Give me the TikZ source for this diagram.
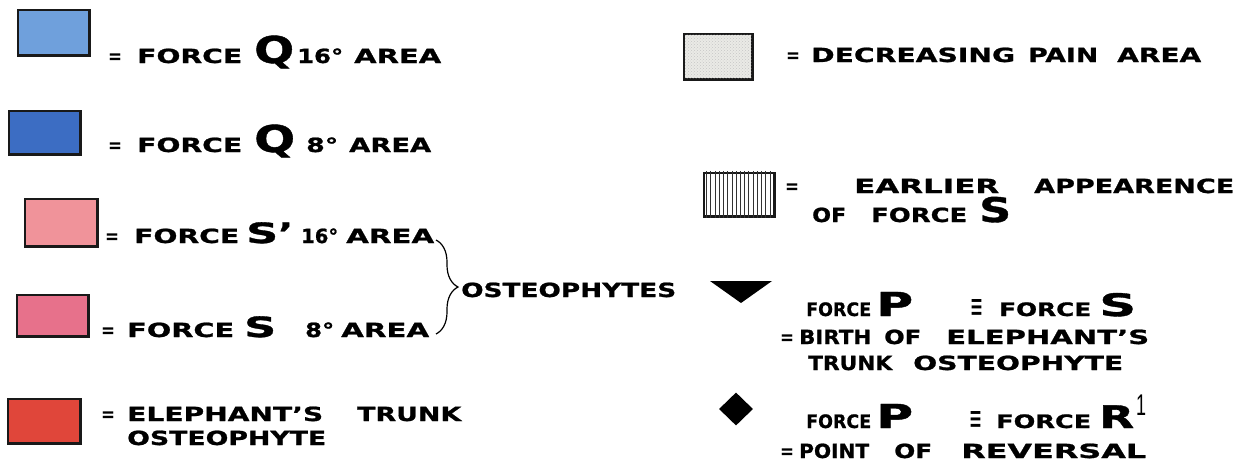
\documentclass[tikz,border=0pt]{standalone}
\usepackage{fontspec}
\usetikzlibrary{decorations.pathreplacing,shapes.geometric,patterns}
\newfontfamily\mainf[FakeStretch=1.4,FakeBold=1.1]{DejaVu Sans}
\newfontfamily\plainf{DejaVu Sans}
\newfontfamily\lsans{Liberation Sans}
\newcommand\fsz[1]{\fontsize{#1}{#1}\selectfont}
\newcommand\fitw[2]{\resizebox{#1pt}{\height}{#2}}
\newcommand\lbl[5][]{\node[txt,#1] (#2) at (#3,#4) {#5};}
\newcommand\lbw[6][]{\node[txt,#1] (#2) at (#3,#4) {\fitw{#5}{#6}};}
% #1 name, #2 x, #3 y, #4 width, #5 height, #6 inner fill options
\newcommand\swatchbox[6]{%
  \node[swatch,minimum width=#4pt,minimum height=#5pt] (#1) at (#2,#3) {};
  \node[inner sep=0pt,#6,minimum width=#4pt-4.4pt,minimum height=#5pt-4.4pt] (#1in) at (#1.center) {};}
\definecolor{qlight}{HTML}{6FA0DC}
\definecolor{qdark}{HTML}{3C6DC3}
\definecolor{slight}{HTML}{F0939A}
\definecolor{sdark}{HTML}{E7718B}
\definecolor{trunkred}{HTML}{E0463A}
\definecolor{painfill}{HTML}{EAEAE6}
\begin{document}
\begin{tikzpicture}[x=1pt,y=-1pt,
  txt/.style={inner sep=0pt,anchor=base west,font=\mainf\bfseries\fsz{19.5}},
  bigq/.style={font=\mainf\bfseries\fsz{37}},
  bigs/.style={font=\mainf\bfseries\fsz{28}},
  bigp/.style={font=\mainf\bfseries\fsz{33}},
  bigr/.style={font=\mainf\bfseries\fsz{31}},
  bigof/.style={font=\mainf\bfseries\fsz{34}},
  sm/.style={font=\mainf\bfseries\fsz{18.5}},
  eqs/.style={font=\plainf\bfseries\fsz{20}},
  eqv/.style={font=\plainf\fsz{24}},
  supone/.style={font=\lsans\fsz{30}},
  swatch/.style={fill=black!90,inner sep=0pt},
]
\useasboundingbox (0,0) rectangle (1238,463);
% swatches (black frame, coloured inside)
\swatchbox{s1}{53.5}{32.5}{74}{48}{fill=qlight}
\swatchbox{s2}{44.5}{132.5}{74}{46}{fill=qdark}
\swatchbox{s3}{61}{222.5}{75}{50}{fill=slight}
\swatchbox{s4}{52.5}{315.5}{74}{44}{fill=sdark}
\swatchbox{s5}{44}{421}{75}{47}{fill=trunkred}
\swatchbox{s6}{718}{56.5}{71}{48}{fill=painfill,postaction={pattern=crosshatch dots,pattern color=gray!45}}
\swatchbox{s7}{739}{194.5}{73}{46}{fill=white}
\foreach \i in {1,...,16}
  \fill[black!80] ([xshift=\i*4.235pt-0.45pt]s7.north west) rectangle ([xshift=\i*4.235pt+0.45pt]s7.south west);
% symbols
\coordinate (tl) at (710,281);
\coordinate (tr) at (772,281);
\coordinate (tb) at (741,303);
\fill[black] (tl) -- (tr) -- (tb) -- cycle;
\node[diamond,fill=black,inner sep=0pt,minimum width=34pt,minimum height=33pt] (dia) at (736,409) {};
% left column
\lbw[eqs]{l1eq}{108}{63}{14}{=}
\lbw{l1force}{137}{63}{105}{FORCE}
\lbw[bigq]{l1q}{254}{63}{40}{Q}
\lbw{l1deg}{297}{63}{46}{16°}
\lbw{l1area}{354}{63}{87}{AREA}
\lbw[eqs]{l2eq}{108}{152}{14}{=}
\lbw{l2force}{137}{152}{105}{FORCE}
\lbw[bigq]{l2q}{254}{152}{41}{Q}
\lbw{l2deg}{306}{152}{32}{8°}
\lbw{l2area}{349}{152}{82}{AREA}
\lbw[eqs]{l3eq}{105}{243}{14}{=}
\lbw{l3force}{134}{243}{105}{FORCE}
\lbl[bigs]{l3s}{246}{243}{\fitw{32}{S}’}
\lbw{l3deg}{301}{243}{37}{16°}
\lbw{l3area}{346}{243}{88}{AREA}
\lbw[eqs]{l4eq}{101}{337}{14}{=}
\lbw{l4force}{127}{337}{107}{FORCE}
\lbw[bigs]{l4s}{244}{337}{32}{S}
\lbw{l4deg}{305}{337}{29}{8°}
\lbw{l4area}{341}{337}{88}{AREA}
\lbw{osteo}{461}{297}{215}{OSTEOPHYTES}
\coordinate (bt) at (436,240);
\coordinate (bb) at (436,334);
\draw[line width=1.2pt,decorate,decoration={brace,amplitude=22pt}] (bt) -- (bb);
\lbw[eqs]{l5eq}{101}{421}{14}{=}
\lbw{l5eleph}{127}{421}{196}{ELEPHANT’S}
\lbw{l5trunk}{357}{421}{104}{TRUNK}
\lbw{l6osteo}{127}{445}{199}{OSTEOPHYTE}
% right column
\lbw[eqs]{r1eq}{786}{62}{14}{=}
\lbw{r1decr}{811}{62}{204}{DECREASING}
\lbw{r1pain}{1028}{62}{70}{PAIN}
\lbw{r1area}{1117}{62}{84}{AREA}
\lbw[eqs]{r2eq}{785}{193}{14}{=}
\lbw{r2earl}{854}{193}{145}{EARLIER}
\lbw{r2app}{1034}{193}{200}{APPEARENCE}
\lbw{r3of}{812}{222}{34}{OF}
\lbw{r3force}{871}{222}{96}{FORCE}
\lbw[bigof]{r3s}{979}{222}{32}{S}
\lbw[sm]{r4force}{806}{316}{65}{FORCE}
\lbw[bigp]{r4p}{876}{316}{37}{P}
\lbl[eqv]{r4eqv}{970}{318}{\resizebox{13pt}{19pt}{≡}}
\lbw[sm]{r4force2}{999}{316}{92}{FORCE}
\lbw[bigr]{r4s}{1099}{316}{37}{S}
\lbw[eqs]{r5eq}{780}{344}{14}{=}
\lbw{r5birth}{799}{344}{72}{BIRTH}
\lbw{r5of}{884}{344}{37}{OF}
\lbw{r5eleph}{946}{344}{203}{ELEPHANT’S}
\lbw{r6trunk}{808}{370}{84}{TRUNK}
\lbw{r6osteo}{913}{370}{210}{OSTEOPHYTE}
\lbw[sm]{r7force}{806}{428}{65}{FORCE}
\lbw[bigp]{r7p}{876}{428}{37}{P}
\lbl[eqv]{r7eqv}{969}{430}{\resizebox{13pt}{19pt}{≡}}
\lbw[sm]{r7force2}{996}{428}{95}{FORCE}
\lbw[bigr]{r7r}{1099}{428}{35}{R}
\lbl[supone]{r7one}{1136}{415}{\fitw{10}{1}}
\lbw[eqs]{r8eq}{780}{458}{14}{=}
\lbw{r8point}{799}{458}{70}{POINT}
\lbw{r8of}{894}{458}{38}{OF}
\lbw{r8rev}{961}{458}{185}{REVERSAL}
\end{tikzpicture}
\end{document}
